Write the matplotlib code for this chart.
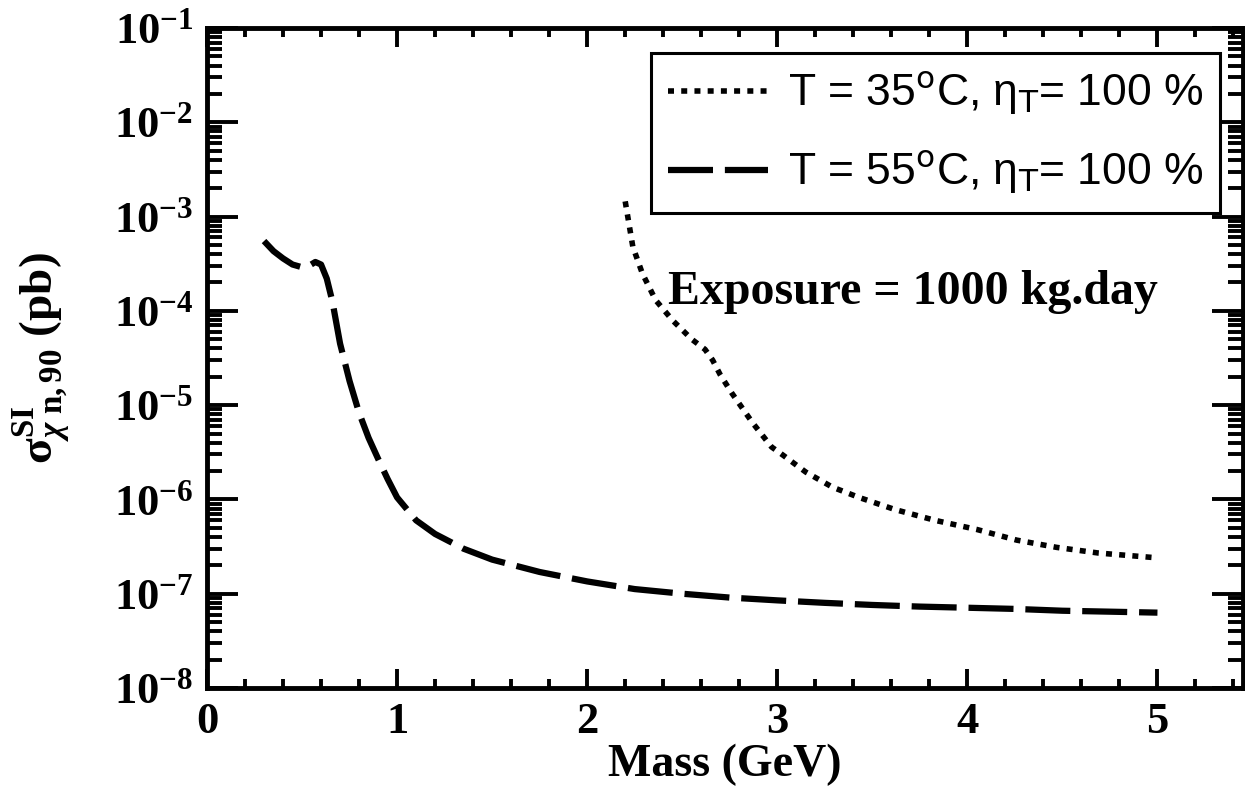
import numpy as np
import matplotlib
matplotlib.use("Agg")
import matplotlib.pyplot as plt
from matplotlib.ticker import MultipleLocator, FixedLocator, FuncFormatter, NullFormatter

# 90% CL spin-independent limits, exposure 1000 kg.day
mass_35 = [2.20, 2.24, 2.29, 2.36, 2.45, 2.55, 2.62, 2.66, 2.70, 2.76, 2.87, 2.97,
           3.03, 3.15, 3.29, 3.43, 3.62, 3.83, 4.05, 4.26, 4.47, 4.69, 5.00]
sigma_35 = [1.45e-3, 4.8e-4, 2.5e-4, 1.3e-4, 7.9e-5, 5.0e-5, 3.9e-5, 3.0e-5, 2.1e-5,
            1.35e-5, 6.5e-6, 3.6e-6, 2.95e-6, 1.95e-6, 1.35e-6, 1.05e-6, 7.8e-7,
            6.0e-7, 4.8e-7, 3.7e-7, 3.1e-7, 2.7e-7, 2.4e-7]

mass_55 = [0.30, 0.35, 0.40, 0.45, 0.50, 0.53, 0.57, 0.60, 0.63, 0.66, 0.70, 0.75,
           0.80, 0.85, 0.90, 0.95, 1.00, 1.10, 1.20, 1.35, 1.50, 1.75, 2.00, 2.25,
           2.50, 2.75, 3.00, 3.25, 3.50, 3.75, 4.00, 4.25, 4.50, 4.75, 5.00]
sigma_55 = [5.5e-4, 4.3e-4, 3.6e-4, 3.1e-4, 2.9e-4, 2.95e-4, 3.3e-4, 3.1e-4, 2.2e-4,
            1.25e-4, 4.5e-5, 1.8e-5, 8.3e-6, 4.5e-6, 2.7e-6, 1.65e-6, 1.05e-6,
            6.0e-7, 4.3e-7, 3.0e-7, 2.3e-7, 1.7e-7, 1.35e-7, 1.12e-7, 1.0e-7,
            9.1e-8, 8.5e-8, 8.0e-8, 7.6e-8, 7.3e-8, 7.1e-8, 6.9e-8, 6.6e-8,
            6.45e-8, 6.3e-8]

labels = [r"T = 35$^{\mathrm{o}}$C, η$_{\mathrm{T}}$= 100 %",
          r"T = 55$^{\mathrm{o}}$C, η$_{\mathrm{T}}$= 100 %"]
y_decades = [1e-8, 1e-7, 1e-6, 1e-5, 1e-4, 1e-3, 1e-2, 1e-1]

plt.rcParams['font.family'] = 'Liberation Serif'
plt.rcParams['mathtext.fontset'] = 'custom'
plt.rcParams['mathtext.rm'] = 'Liberation Serif:bold'
plt.rcParams['mathtext.bf'] = 'Liberation Serif:bold'
plt.rcParams['mathtext.it'] = 'Liberation Serif:bold:italic'

W, H = 1245, 792
fig = plt.figure(figsize=(W / 100, H / 100), dpi=100)
ax = fig.add_axes([207 / W, 1 - 688 / H, (1243 - 207) / W, (688 - 28) / H])

ax.plot(mass_35, sigma_35, color='k', lw=4, dashes=(1.08, 1.3),
        dash_capstyle='butt', label=labels[0])
ax.plot(mass_55, sigma_55, color='k', lw=4.5, dashes=(7.2, 1.9),
        dash_capstyle='butt', label=labels[1])

ax.set_yscale('log')
ax.set_xlim(0, 5.45)
ax.set_ylim(1e-8, 1e-1)

ax.xaxis.set_major_locator(FixedLocator([0, 1, 2, 3, 4, 5]))
ax.xaxis.set_minor_locator(MultipleLocator(0.2))
ax.yaxis.set_major_locator(FixedLocator(y_decades))
minor_y = [k * d for d in y_decades[:-1] for k in range(2, 10)]
ax.yaxis.set_minor_locator(FixedLocator(minor_y))
ax.yaxis.set_minor_formatter(NullFormatter())
ax.yaxis.set_major_formatter(FuncFormatter(
    lambda v, pos: r'$\mathbf{10^{%d}}$' % int(round(np.log10(v)))))
ax.xaxis.set_major_formatter(FuncFormatter(lambda v, pos: '%d' % round(v)))

ax.tick_params(which='both', direction='in', top=True, right=True, width=2.8,
               labelsize=32, colors='k')
ax.tick_params(axis='x', which='major', length=14, pad=10)
ax.tick_params(axis='x', which='minor', length=6.5)
ax.tick_params(axis='y', which='major', length=22, pad=10)
ax.tick_params(axis='y', which='minor', length=11)
for lbl in ax.get_xticklabels():
    lbl.set_fontweight('bold')
for sp in ax.spines.values():
    sp.set_linewidth(3.5)

ax.set_xlabel('Mass (GeV)', fontsize=33, fontweight='bold')
ax.xaxis.set_label_coords(0.5, -0.085)
ax.set_ylabel(r'$\mathbf{\sigma}^{\mathbf{SI}}_{\chi\ \mathbf{n,90}}$ (pb)',
              fontsize=34, fontweight='bold')
ax.yaxis.set_label_coords(-0.13, 0.5)

leg = ax.legend(loc='upper right', bbox_to_anchor=(1220 / W, 1 - 53 / H),
                bbox_transform=fig.transFigure, borderaxespad=0,
                prop={'family': 'Liberation Sans', 'weight': 'normal', 'size': 32},
                handlelength=2.25, handletextpad=0.45, labelspacing=0.72,
                borderpad=0.38, fancybox=False, framealpha=1, edgecolor='k')
leg.get_frame().set_linewidth(2.2)
for t in leg.get_texts():
    t.set_math_fontfamily('dejavusans')

ax.text(0.445, 0.60, 'Exposure = 1000 kg.day', transform=ax.transAxes,
        fontsize=34.5, fontweight='bold', ha='left', va='center')

fig.savefig('out.png', dpi=100)
